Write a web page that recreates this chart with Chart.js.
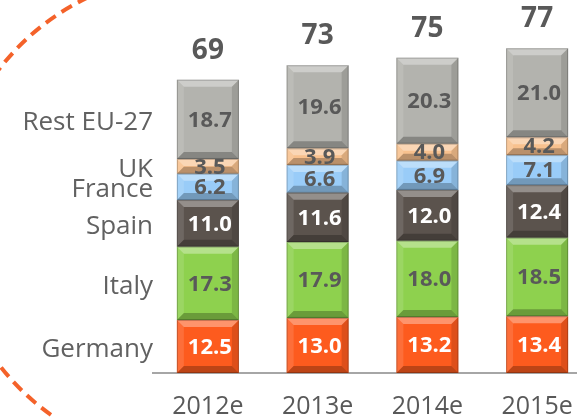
<!DOCTYPE html>
<html lang="en">
<head>
    <meta charset="UTF-8">
    <title>EU-27 by country</title>
    <script src="https://cdn.jsdelivr.net/npm/chart.js"></script>
    <style>
        body { margin: 0; overflow: hidden; background: #fff; }
    </style>
</head>
<body>
    <canvas id="myChart" width="592" height="417"></canvas>
    <script>
        // data
        const years = ['2012e', '2013e', '2014e', '2015e'];
        const countries = ['Germany', 'Italy', 'Spain', 'France', 'UK', 'Rest EU-27'];
        const germany = [12.5, 13.0, 13.2, 13.4];
        const italy = [17.3, 17.9, 18.0, 18.5];
        const spain = [11.0, 11.6, 12.0, 12.4];
        const france = [6.2, 6.6, 6.9, 7.1];
        const uk = [3.5, 3.9, 4.0, 4.2];
        const restEU = [18.7, 19.6, 20.3, 21.0];
        const totals = [69, 73, 75, 77];

        const series = [germany, italy, spain, france, uk, restEU];
        const colors = ['#fd5b1e', '#8ed14e', '#5b534d', '#99ccf8', '#f8c18e', '#b3b3ae'];
        const labelColors = ['#ffffff', '#595959', '#ffffff', '#595959', '#595959', '#595959'];

        // country names sit beside the middle of each 2012 segment
        const mids = [];
        let run = 0;
        series.forEach(s => { mids.push(run + s[0] / 2); run += s[0]; });

        const gray = '#595959';

        const arcPlugin = {
            id: 'arc',
            beforeDraw(chart) {
                const ctx = chart.ctx;
                ctx.save();
                ctx.fillStyle = '#fff';
                ctx.fillRect(0, 0, chart.width, chart.height);
                ctx.beginPath();
                ctx.rect(0, 0, 150, chart.height);
                ctx.clip();
                ctx.beginPath();
                ctx.setLineDash([12, 7]);
                ctx.lineWidth = 4;
                ctx.strokeStyle = '#f4622a';
                ctx.arc(192, 217, 243, 0, Math.PI * 2);
                ctx.stroke();
                ctx.restore();
            }
        };

        const bevelPlugin = {
            id: 'bevel',
            afterDatasetsDraw(chart) {
                const ctx = chart.ctx;
                ctx.save();
                chart.data.datasets.forEach((ds, di) => {
                    const meta = chart.getDatasetMeta(di);
                    meta.data.forEach((el, i) => {
                        const p = el.getProps(['x', 'y', 'base', 'width'], true);
                        const l = p.x - p.width / 2, r = p.x + p.width / 2;
                        const t = Math.min(p.y, p.base), bo = Math.max(p.y, p.base);
                        const b = Math.min(7, (bo - t) / 2);
                        const poly = (pts, fill) => {
                            ctx.beginPath();
                            ctx.moveTo(pts[0][0], pts[0][1]);
                            pts.slice(1).forEach(q => ctx.lineTo(q[0], q[1]));
                            ctx.closePath();
                            ctx.fillStyle = fill;
                            ctx.fill();
                        };
                        poly([[l, t], [r, t], [r - b, t + b], [l + b, t + b]], 'rgba(255,255,255,0.35)');
                        poly([[l, t], [l + b, t + b], [l + b, bo - b], [l, bo]], 'rgba(255,255,255,0.12)');
                        poly([[r, t], [r - b, t + b], [r - b, bo - b], [r, bo]], 'rgba(0,0,0,0.12)');
                        poly([[l, bo], [l + b, bo - b], [r - b, bo - b], [r, bo]], 'rgba(0,0,0,0.25)');
                        ctx.strokeStyle = 'rgba(0,0,0,0.22)';
                        ctx.lineWidth = 1;
                        ctx.strokeRect(l + 0.5, t + 0.5, r - l - 1, bo - t - 1);

                        ctx.font = 'bold 22px "Open Sans"';
                        ctx.fillStyle = labelColors[di];
                        ctx.textAlign = 'center';
                        ctx.textBaseline = 'middle';
                        ctx.fillText(ds.data[i].toFixed(1), p.x + 2, (t + bo) / 2 + 1);
                    });
                });
                // totals above the stacks
                const topMeta = chart.getDatasetMeta(chart.data.datasets.length - 1);
                topMeta.data.forEach((el, i) => {
                    ctx.font = 'bold 28px "Open Sans"';
                    ctx.fillStyle = gray;
                    ctx.textAlign = 'center';
                    ctx.textBaseline = 'middle';
                    ctx.fillText(totals[i], el.x, el.y - 29);
                });
                ctx.restore();
            }
        };

        const ctx = document.getElementById('myChart').getContext('2d');
        new Chart(ctx, {
            type: 'bar',
            data: {
                labels: years,
                datasets: series.map((s, i) => ({
                    label: countries[i],
                    data: s,
                    backgroundColor: colors[i],
                    borderWidth: 0,
                    categoryPercentage: 1,
                    barPercentage: 0.565
                }))
            },
            options: {
                responsive: false,
                animation: false,
                layout: { padding: 0 },
                plugins: {
                    legend: { display: false },
                    tooltip: { enabled: false }
                },
                scales: {
                    x: {
                        stacked: true,
                        grid: { display: false },
                        border: { display: true, color: '#a6a6a6', width: 2 },
                        ticks: { color: gray, font: { family: 'Open Sans', size: 25 }, padding: 11 },
                        afterFit: s => { s.height = 44; s.paddingLeft = 0; s.paddingRight = 0; }
                    },
                    y: {
                        stacked: true,
                        min: 0,
                        max: 88,
                        grid: { display: false, drawTicks: false },
                        border: { display: false },
                        afterBuildTicks: s => { s.ticks = mids.map(v => ({ value: v })); },
                        ticks: {
                            color: '#616161',
                            font: { family: 'Open Sans', size: 26 },
                            padding: 0,
                            labelOffset: 3,
                            autoSkip: false,
                            callback: (v, i) => countries[i]
                        },
                        afterFit: s => { s.width = 153; s.paddingTop = 0; s.paddingBottom = 0; }
                    }
                }
            },
            plugins: [arcPlugin, bevelPlugin]
        });
    </script>
</body>
</html>
